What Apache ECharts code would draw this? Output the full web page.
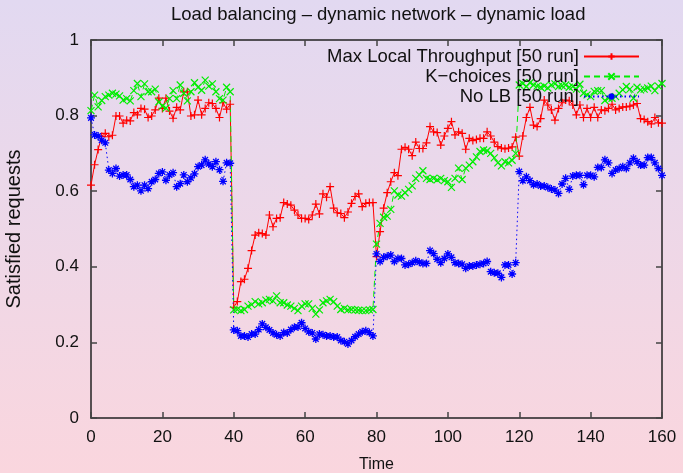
<!DOCTYPE html>
<html>
<head>
<meta charset="utf-8">
<script src="https://cdn.jsdelivr.net/npm/echarts@6.0.0/dist/echarts.min.js"></script>
<style>
html,body{margin:0;padding:0;}
#c{width:683px;height:473px;background:linear-gradient(to bottom,#E2D9F1,#FAD6DE);}
</style>
</head>
<body>
<div id="c"></div>
<script>
// ---- data ----
const titleText = 'Load balancing \u2013 dynamic network \u2013 dynamic load';
const xTicks = [0, 20, 40, 60, 80, 100, 120, 140, 160];
const yTicks = [0, 0.2, 0.4, 0.6, 0.8, 1];
const seriesNames = ['Max Local Throughput [50 run]', 'K\u2212choices [50 run]', 'No LB [50 run]'];
const time = Array.from({length: 161}, (_, i) => i);

const maxLocal = [
0.616,0.670,0.710,0.745,0.753,0.744,0.748,0.799,0.799,0.780,
0.788,0.786,0.808,0.802,0.819,0.817,0.795,0.799,0.815,0.846,
0.819,0.846,0.812,0.793,0.822,0.815,0.863,0.863,0.799,0.802,
0.841,0.802,0.819,0.834,0.832,0.819,0.795,0.834,0.817,0.830,
0.293,0.308,0.361,0.367,0.396,0.443,0.484,0.490,0.488,0.484,
0.537,0.506,0.528,0.530,0.570,0.566,0.563,0.550,0.537,0.528,
0.528,0.525,0.537,0.566,0.540,0.593,0.584,0.612,0.555,0.543,
0.541,0.530,0.545,0.568,0.586,0.593,0.559,0.568,0.570,0.570,
0.427,0.493,0.555,0.596,0.625,0.649,0.641,0.711,0.716,0.711,
0.694,0.730,0.713,0.713,0.728,0.771,0.757,0.755,0.722,0.746,
0.766,0.784,0.749,0.757,0.753,0.711,0.740,0.734,0.737,0.740,
0.740,0.757,0.746,0.730,0.718,0.714,0.712,0.714,0.717,0.743,
0.693,0.746,0.795,0.822,0.775,0.771,0.792,0.841,0.828,0.815,
0.788,0.819,0.834,0.841,0.839,0.828,0.802,0.828,0.795,0.819,
0.795,0.822,0.795,0.815,0.813,0.819,0.830,0.815,0.819,0.823,
0.823,0.825,0.828,0.832,0.792,0.790,0.784,0.778,0.795,0.781,
0.780];

const kChoices = [
0.813,0.854,0.823,0.840,0.850,0.854,0.859,0.857,0.852,0.841,
0.845,0.839,0.866,0.885,0.850,0.884,0.863,0.863,0.870,0.836,
0.825,0.820,0.845,0.866,0.845,0.881,0.859,0.839,0.863,0.887,
0.875,0.867,0.894,0.878,0.884,0.863,0.845,0.841,0.875,0.863,
0.286,0.287,0.284,0.287,0.296,0.300,0.308,0.302,0.305,0.312,
0.314,0.310,0.323,0.305,0.305,0.299,0.296,0.290,0.284,0.296,
0.302,0.302,0.290,0.275,0.286,0.305,0.310,0.314,0.308,0.296,
0.287,0.290,0.286,0.287,0.286,0.285,0.284,0.284,0.286,0.287,
0.460,0.515,0.531,0.534,0.552,0.601,0.590,0.587,0.596,0.605,
0.614,0.634,0.643,0.654,0.634,0.631,0.634,0.630,0.634,0.628,
0.625,0.610,0.634,0.661,0.631,0.661,0.669,0.678,0.691,0.705,
0.709,0.707,0.700,0.688,0.675,0.667,0.678,0.675,0.682,0.700,
0.881,0.885,0.877,0.887,0.881,0.878,0.875,0.878,0.873,0.881,
0.884,0.877,0.879,0.881,0.875,0.877,0.870,0.883,0.859,0.855,
0.850,0.864,0.866,0.866,0.840,0.846,0.846,0.850,0.859,0.868,
0.877,0.870,0.846,0.875,0.868,0.870,0.873,0.878,0.866,0.878,
0.885];

const noLB = [
0.794,0.749,0.746,0.735,0.728,0.656,0.647,0.660,0.640,0.643,
0.643,0.631,0.612,0.616,0.601,0.616,0.607,0.625,0.631,0.647,
0.651,0.629,0.643,0.649,0.612,0.620,0.643,0.625,0.635,0.646,
0.665,0.669,0.683,0.672,0.665,0.678,0.657,0.626,0.675,0.674,
0.233,0.231,0.217,0.217,0.214,0.222,0.222,0.234,0.249,0.240,
0.233,0.225,0.220,0.217,0.226,0.225,0.234,0.240,0.241,0.252,
0.237,0.228,0.225,0.209,0.222,0.220,0.217,0.217,0.214,0.214,
0.205,0.202,0.196,0.205,0.215,0.222,0.228,0.231,0.226,0.217,
0.434,0.414,0.425,0.428,0.431,0.414,0.422,0.422,0.405,0.407,
0.411,0.416,0.412,0.409,0.409,0.443,0.435,0.420,0.411,0.422,
0.434,0.425,0.411,0.409,0.407,0.396,0.402,0.402,0.405,0.407,
0.409,0.414,0.387,0.384,0.383,0.372,0.405,0.405,0.381,0.411,
0.652,0.628,0.638,0.628,0.617,0.619,0.614,0.614,0.610,0.606,
0.603,0.594,0.619,0.634,0.605,0.640,0.642,0.642,0.617,0.642,
0.642,0.638,0.663,0.663,0.683,0.675,0.647,0.656,0.660,0.665,
0.660,0.675,0.687,0.678,0.669,0.669,0.689,0.689,0.675,0.660,
0.642];

// ---- chart ----
const FONT = 'Liberation Sans, Arial, sans-serif';
const TXT = '#111111';
const plusSym = 'path://M0,5L10,5M5,0L5,10';
const crossSym = 'path://M0,0L10,10M10,0L0,10';
const starSym = 'path://M0,5L10,5M5,0L5,10M1.5,1.5L8.5,8.5M8.5,1.5L1.5,8.5';

const GRID = {left: 91, right: 21, top: 40, bottom: 55, outerBoundsMode: 'none', containLabel: false};
const W = 683, H = 473;
const plotW = W - GRID.left - GRID.right;
const plotH = H - GRID.top - GRID.bottom;

function pairs(vals) { return vals.map((v, i) => [time[i], v]); }

function mkSeries(name, vals, color, sym, size, dash, bw) {
  return {
    type: 'line', name: name, data: pairs(vals),
    xAxisIndex: 0, yAxisIndex: 0,
    symbol: sym, symbolSize: size, showSymbol: true, showAllSymbol: true,
    lineStyle: {color: color, width: 1, type: dash},
    itemStyle: {color: 'rgba(0,0,0,0)', borderColor: color, borderWidth: bw},
    emphasis: {disabled: true}, silent: true, animation: false
  };
}

const lineOn = {show: true, onZero: false, lineStyle: {color: '#222', width: 1.5}};
const lineOff = {show: false, onZero: false};
const noTick = {show: false};
const tickOn = {show: true, length: 6, lineStyle: {color: '#444', width: 1.5}};

function xAx(extra) {
  return Object.assign({
    type: 'value', min: xTicks[0], max: xTicks[xTicks.length - 1], interval: xTicks[1] - xTicks[0],
    splitLine: {show: false}, axisLabel: {show: false}, axisLine: lineOff, axisTick: noTick, silent: true
  }, extra);
}
function yAx(extra) {
  return Object.assign({
    type: 'value', min: yTicks[0], max: yTicks[yTicks.length - 1], interval: yTicks[1] - yTicks[0],
    splitLine: {show: false}, axisLabel: {show: false}, axisLine: lineOff, axisTick: noTick, silent: true
  }, extra);
}

const chart = echarts.init(document.getElementById('c'), null, {renderer: 'canvas'});
chart.setOption({
  backgroundColor: 'transparent',
  animation: false,
  textStyle: {fontFamily: FONT},
  title: {
    text: titleText, left: 166, top: 0,
    textStyle: {fontSize: 18.5, fontWeight: 'normal', color: TXT, fontFamily: FONT}
  },
  grid: GRID,
  legend: {
    orient: 'vertical', right: 38, top: 42, align: 'right',
    itemWidth: 55, itemHeight: 8, itemGap: 1,
    textStyle: {fontSize: 18.5, color: TXT, fontFamily: FONT, lineHeight: 18},
    data: seriesNames
  },
  xAxis: [
    xAx({position: 'bottom', axisLine: lineOn,
         axisLabel: {show: true, fontSize: 17, color: TXT, margin: 11, fontFamily: FONT},
         name: 'Time', nameLocation: 'middle', nameGap: 39,
         nameTextStyle: {fontSize: 16, color: TXT, fontFamily: FONT}}),
    xAx({position: 'top', axisLine: lineOn}),
    // inward ticks on the bottom edge (top-positioned axis moved down)
    xAx({position: 'top', offset: -plotH, axisTick: tickOn}),
    // inward ticks on the top edge (bottom-positioned axis moved up)
    xAx({position: 'bottom', offset: -plotH, axisTick: tickOn})
  ],
  yAxis: [
    yAx({position: 'left', axisLine: lineOn,
         axisLabel: {show: true, fontSize: 17, color: TXT, margin: 12, fontFamily: FONT},
         name: 'Satisfied requests', nameLocation: 'middle', nameGap: 67,
         nameTextStyle: {fontSize: 20, color: TXT, fontFamily: FONT}}),
    yAx({position: 'right', axisLine: lineOn}),
    // inward ticks on the left edge
    yAx({position: 'right', offset: -plotW, axisTick: tickOn}),
    // inward ticks on the right edge
    yAx({position: 'left', offset: -plotW, axisTick: tickOn})
  ],
  series: [
    mkSeries(seriesNames[0], maxLocal, '#ff0000', plusSym, 8, 'solid', 1.2),
    mkSeries(seriesNames[1], kChoices, '#00ee00', crossSym, 7, [6, 4], 1.2),
    mkSeries(seriesNames[2], noLB, '#0000ff', starSym, 8, [1.5, 3], 1.3)
  ]
});
</script>
</body>
</html>
